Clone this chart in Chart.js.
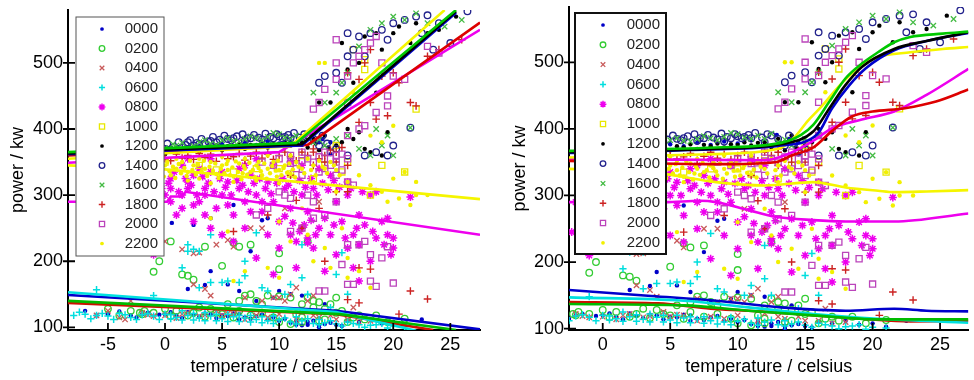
<!DOCTYPE html>
<html><head><meta charset="utf-8">
<script src="https://cdn.jsdelivr.net/npm/chart.js@4.4.0/dist/chart.umd.min.js"></script>
<style>
html,body{margin:0;padding:0;background:#fff;}
#wrap{position:relative;width:974px;height:380px;overflow:hidden;background:#fff;}
canvas{position:absolute;top:0;}
#c1{left:0;} #c2{left:487px;}
</style></head><body>
<div id="wrap"><canvas id="c1" width="487" height="380"></canvas><canvas id="c2" width="487" height="380"></canvas></div>
<script>
// ---------- tick labels ----------
const xTicksLeft = [-5, 0, 5, 10, 15, 20, 25];
const xTicksRight = [0, 5, 10, 15, 20, 25];
const yTicks = [100, 200, 300, 400, 500];
const seriesNames = ['0000','0200','0400','0600','0800','1000','1200','1400','1600','1800','2000','2200'];

// ---------- scatter data (temperature, power) ----------
const s0000 = [[-7,125],[-5,120],[-3,118],[-1.5,122],[0,120],[1,118],[2,123],[3,116],[4,120],[5,118],[6,121],[7,115],[8,117],[9,112],[10,110],[11,107],[11.5,104],[12,103],[12.5,108],[13,110],[14,105],[15,104],[16,110],[18,112],[22.5,112],[20,108],[3.5,164],[4,185],[5.5,165],[6.5,155],[2,158],[4,265],[2.5,255],[0.6,258],[8.5,262],[9,265],[6,285],[7.5,215],[10,155],[11,150],[12,148],[14,135],[9.5,145],[8,140],[12.9,391],[13.5,380],[14.5,362],[-2,120],[6.5,112],[13.5,104],
  [1,372],[3,374],[5,377],[7,379],[9,381],[11,383],[12,376],[13.8,385],[14.5,380],[0,366],[2,369],[4,371],[6,374],[8,376],[10,378],
  [-6,118],[-4,124],[-2.5,115],[-0.5,119],[0.5,123],[1.5,114],[2.5,119],[3.5,121],[4.5,114],[5.5,117],[6.5,120],[7.5,113],[8.5,119],[9.5,115],[10.5,113],[11.5,110],[12.5,104],[13.5,100],[14.5,107],[15.5,102],[17,108],[19,106],[21,103]];
const s0200 = [[-5,128],[-3,125],[-1,122],[1,125],[2,118],[3,130],[4,128],[5.5,135],[6.5,125],[7,148],[7.5,150],[8,140],[9,148],[10,147],[11,145],[12,135],[13,130],[14,128],[15,122],[15.5,125],[17,118],[18.5,118],[21,113],[10,108],[11,105],[12,115],[13.5,110],[16,108],[6.5,140],[-1,184],[1.5,180],[2,178],[2.5,172],[3.5,222],[5,193],[6,228],[6.5,222],[7.5,225],[10,212],[10,188],[0.5,230],[-0.5,200],[8.5,135],[13,140],[15,145],[12.5,230],[-2.2,122],[-1.8,125],[0,128],[4.5,122],
  [-4,118],[-2,120],[0.5,117],[2.5,122],[3.5,116],[5,120],[6,115],[7.5,118],[8.5,122],[9.5,115],[11.5,120],[12.5,145],[13.5,138],[14.5,135],[16.5,115],[17.5,112],[19.5,108],[14,112],[12,108]];
const s0400 = [[-5,125],[-3.5,112],[-2,122],[0,118],[1.5,120],[3,117],[4.5,125],[6,120],[7,145],[8.5,140],[9.5,145],[10.5,140],[11,150],[12,123],[13,118],[15,112],[3.5,158],[4,148],[2.5,165],[0,230],[1.5,218],[2.5,212],[3,213],[4.5,225],[6,222],[7.5,250],[8.5,250],[5.5,232],[10.5,280],[13.5,290],[-3,140],[11.5,160],[-1,117],[5,118],
  [-6,118],[-4,115],[-1.5,119],[1,114],[2,122],[3.5,119],[5.5,121],[7,112],[8,118],[9,115],[10,120],[11.5,112],[13.5,115],[14.5,118],[16,112],[17,108],[18,110],[16.5,130],[12.5,140],[13,148],[10,145]];
const s0600 = [[-8,118],[-7,120],[-6,118],[-5,117],[-4,121],[-3,115],[-2,119],[-1,117],[0,120],[1,115],[2,118],[3,114],[4,117],[5,113],[6,116],[7,114],[8,112],[9,110],[10,111],[11,108],[12,110],[13,106],[14,107],[15,105],[16,108],[17,104],[18,103],[19,106],[20,102],[21,101],[1.5,125],[3.5,122],[5.5,120],[7.5,118],[9.5,117],[11.5,116],[13.5,112],[-6,157],[-1,148],[1.5,190],[2,215],[2.5,218],[3,215],[3,160],[4,168],[5,168],[5.5,170],[6.5,168],[7,178],[7,200],[8.5,160],[9,155],[10.5,150],[11,165],[12,175],[12,225],[12.5,150],[15,180],[15.5,213],[16,150],[14.5,130],[4,240],[8,243],[-0.5,235],[2,225],[0.5,113],[2.5,111],[4.5,110],[6.5,109],[8.5,107],
  [-7.5,123],[-6.5,113],[-5.5,121],[-4.5,112],[-3.5,119],[-2.5,112],[-1.5,121],[-0.5,112],[0.5,119],[1.5,111],[2.5,121],[3.5,110],[4.5,120],[5.5,109],[6.5,118],[7.5,108],[8.5,116],[9.5,106],[10.5,114],[11.5,105],[12.5,113],[13.5,104],[14.5,110],[15.5,102],[16.5,106],[17.5,100],[18.5,104],[19.5,99]];
const s0800 = [[-1,210],[-0.5,330],[0,300],[0.5,325],[1,270],[1.5,300],[2,320],[2.5,330],[2.5,260],[3,290],[3.5,310],[4,250],[4,335],[4.5,280],[5,300],[5,240],[5.5,320],[6,270],[6,230],[6.5,310],[7,290],[7,250],[7.5,330],[8,300],[8,205],[8.5,275],[9,320],[9,240],[9.5,180],[9.5,290],[10,260],[10,220],[10.5,310],[11,240],[11,280],[11.5,190],[11.5,230],[12,250],[12,300],[12.5,235],[12.5,275],[13,310],[13,220],[13.5,250],[14,265],[14,185],[14.5,240],[15,290],[15,210],[15.5,260],[16,220],[16,300],[16.5,240],[16.5,190],[17,270],[17,225],[17.5,255],[18,300],[18,200],[18.5,235],[19,260],[19.5,265],[19.5,240],[20,220],[17,170],[21.5,297],[13.5,340],[1.5,345],[0.5,310],[6.5,340],[9.5,345],[12,345],[14.5,330],[16,320],[18.5,305],[11,350],[4,355],[2,355],[8,355],[-2.3,245],[-2,290],[-1.5,268],[3,340],[5,335],[7,345],[11.8,245],[12.2,255],[12.5,228],[3.5,300],[2,310],
  [-0.8,320],[-0.3,310],[0.3,318],[0.8,335],[1.2,305],[1.8,325],[2.3,315],[2.8,300],[3.3,328],[3.8,318],[4.3,305],[4.8,325],[5.3,312],[5.8,300],[6.3,322],[6.8,315],[7.3,305],[7.8,318],[8.3,325],[8.8,310],[9.3,302],[9.8,318],[10.3,325],[10.8,315],[11.3,305],[11.8,322],[12.3,312],[12.8,325],[13.3,300],[13.8,318],[14.3,308],[14.8,322],[15.3,312],[16.3,310],[17.3,305],[0.5,290],[1.5,280],[2.5,285],[3.5,270],[5.5,285],[7.5,275],[8.5,290],[10.5,268],[11.2,258],[12.8,262],[13.2,240],[14.8,255],[15.8,235],[16.8,250],[18.2,245],[19.2,225],[20,235],[19.8,210]];
const s1000 = [[22,430],[21,335],[16,350],[15,375],[17.5,505],[18,300],[13,325],[10,340],[6,335],[0,350],[3,345],[19,345],[8,340],[12,360],[14,345],[16.5,520],[17.5,490],[4.5,338],[11,332],[15.5,335]];
const s1200 = [[0,362],[1,365],[2,368],[3,366],[4,370],[5,368],[6,372],[7,370],[8,374],[9,372],[10,376],[11,375],[12,380],[12.5,372],[13,385],[13.5,368],[14,390],[15,375],[15.5,380],[16,400],[16.5,385],[17,395],[17.5,370],[18,365],[19,360],[19.5,395],[15.5,530],[16,490],[17,500],[17.5,540],[18.5,545],[19,520],[20,545],[20.5,555],[21.5,530],[22,560],[23,545],[24,550],[25.5,570],[18.5,455],[14.5,440],[13.5,440],[16.5,470],
  [-0.5,366],[0.5,372],[1.5,370],[2.5,373],[3.5,371],[4.5,375],[5.5,374],[6.5,377],[7.5,376],[8.5,378],[9.5,377],[10.5,380],[11.5,379],[13.2,378],[14.3,372]];
const s1400 = [[0,370],[0.5,368],[1.5,372],[2.5,375],[3.5,378],[4.5,380],[5.5,385],[6,386],[7,382],[8.5,384],[9.5,386],[10.5,388],[11,386],[12.5,390],[13.5,470],[14,480],[15,485],[15.5,470],[16,510],[16.5,520],[17,540],[18,545],[19,550],[20,560],[21,565],[22,570],[23,572],[24,560],[26.5,578],[17.5,360],[18.5,365],[19.5,360],[20,375],[21.5,402],[14.5,365],[16,360],[15,370],[22.5,545],[23.5,520],[25,530],[13.5,375],[12,380],[9,381],[3,377],[-0.5,368],[2,380],[4,382],[7.5,386],[10,389],[16,545],[17.5,510],[19.5,535],
  [-0.8,375],[0.2,378],[0.8,373],[1.2,380],[1.8,376],[2.2,383],[2.8,379],[3.2,385],[3.8,381],[4.2,388],[4.8,384],[5.2,390],[5.8,383],[6.3,389],[6.8,392],[7.2,386],[7.8,391],[8.2,387],[8.8,393],[9.2,388],[9.8,392],[10.3,386],[10.8,391],[11.3,394],[11.8,387],[12.2,392],[13,385],[13.8,390],[14.2,378]];
const s1600 = [[-1,372],[1,375],[3,380],[5,383],[7,385],[9,388],[10,392],[11,385],[13,380],[14,375],[15,385],[16,390],[17,370],[18,360],[19,375],[20,360],[21.5,402],[14,440],[15,455],[15.5,470],[16,485],[17,525],[18,550],[19,560],[20,570],[21,565],[22,575],[23,560],[24.5,555],[26,565],[18.5,400],[19.5,390],[13,455],[2,370],[4,378],[6,382],[8,386],[12,385],
  [0,371],[0.7,377],[1.5,379],[2.5,374],[3.5,383],[4.5,376],[5.5,386],[6.5,381],[7.5,389],[8.5,383],[9.5,394],[10.5,387],[11.5,390],[12.5,393],[13.5,384]];
const s1800 = [[0,355],[2,360],[4,362],[6,358],[8,365],[10,360],[11,330],[12,365],[13,370],[14,360],[15,350],[16,345],[17,410],[18,440],[18.5,415],[19.5,420],[19,480],[20,485],[20.5,470],[21.5,440],[22,435],[23,510],[24,520],[26,535],[17,475],[16,485],[17.5,500],[16,305],[15,305],[13.5,280],[12,250],[14,200],[18,188],[17,190],[16,142],[17,137],[21.5,155],[23,143],[20.5,120],[9,270],[6,245],[15,365],[11.5,292],[13,365],[18,520],
  [-0.5,358],[0.5,352],[1,362],[1.5,356],[2.5,354],[3,363],[3.5,357],[4.5,351],[5,360],[5.5,355],[6.5,363],[7,353],[7.5,359],[8.5,356],[9,362],[9.5,354],[10.5,365],[11,358],[11.5,352],[12.5,360],[13.5,355],[14.5,368],[14,350],[15.5,372],[13,345]];
const s2000 = [[8,270],[9,280],[10,305],[10.5,300],[11,295],[12,330],[12.5,300],[13,290],[13.5,335],[14,340],[14.5,345],[15,330],[15.5,338],[16,320],[16.5,315],[15,290],[14,270],[13,265],[11,245],[12,250],[16,225],[17,225],[17.5,230],[18,210],[19,205],[19.5,222],[15.5,195],[16,165],[16.5,165],[14,155],[13.5,155],[18,170],[18.5,162],[20,167],[13,430],[13.5,440],[14,460],[15,475],[15,500],[15,535],[16,480],[16.5,500],[17,510],[17.5,520],[18,530],[18.5,540],[19,500],[19.5,450],[20,480],[21,475],[23,525],[24,515],[16,440],[17,400],[17.5,405],[18.5,425],[19.5,435],[16,390],[15,360],[14,365],[12.5,355],
  [8.5,350],[9.5,345],[10,355],[11,348],[11.5,340],[12,352],[13,350],[13.5,358],[14.5,355],[15,350],[15.5,362],[16,355],[12,365],[11,360]];
const s2200 = [[0,345],[0.5,330],[1,340],[1.5,350],[2,335],[2.5,345],[3,325],[3.5,340],[4,350],[4.5,332],[5,345],[5.5,338],[6,328],[6.5,348],[7,340],[7.5,335],[8,345],[8.5,330],[9,340],[9.5,350],[10,338],[10.5,345],[11,332],[11.5,350],[12,340],[12.5,355],[13,345],[13.5,352],[14,340],[14.5,350],[15,338],[1,355],[3,355],[5,358],[7,355],[9,360],[11,360],[2,322],[4,318],[6,320],[8,322],[10,318],[13,320],[15,305],[16,320],[17,330],[18,315],[19,305],[20,325],[21,335],[22,300],[21.5,285],[23,300],[12.5,240],[13,200],[14,220],[14.5,190],[16,175],[17,185],[18,160],[11,230],[9,190],[10,175],[7,185],[6,170],[5.5,245],[4,265],[13.5,500],[14,500],[16.5,455],[18,390],[19,380],[10,260],[12,280],[20,405],[22,320],[16,205],[15.5,250],[19.5,290],[20.5,295],[-1,340],[-0.5,352],[5.5,352],[6.8,333],[8.2,350],[9.8,328],
  [-1,330],[-0.7,345],[-0.4,338],[-0.1,328],[0.2,350],[0.4,336],[0.7,343],[0.9,326],[1.2,347],[1.4,333],[1.7,341],[1.9,329],[2.2,352],[2.4,338],[2.7,331],[2.9,346],[3.2,336],[3.4,352],[3.7,329],[3.9,343],[4.2,337],[4.4,348],[4.7,326],[4.9,340],[5.2,333],[5.4,347],[5.7,330],[5.9,342],[6.2,351],[6.4,335],[6.7,324],[6.9,344],[7.2,331],[7.4,349],[7.7,338],[7.9,327],[8.2,341],[8.4,336],[8.7,348],[8.9,325],[9.2,333],[9.4,344],[9.7,337],[9.9,352],[10.2,330],[10.4,341],[10.7,334],[10.9,348],[11.2,339],[11.4,327],[11.7,343],[12.2,333],[12.8,338],[13.2,330],[13.8,343],[14.2,333],[14.8,345],[15.3,330]];

// ---------- fitted curves, left panel (piecewise linear) ----------
const fitL0000 = [[-8.5,149],[15,125],[27.6,97]];
const fitL0200 = [[-8.5,140],[15.3,120],[25.5,96]];
const fitL0400 = [[-8.5,137],[15,120],[23.5,96]];
const fitL0600 = [[-8.5,153],[15,123],[22,95]];
const fitL0800 = [[-8.5,290],[0.2,290],[0.5,298],[1.5,298],[1.8,305],[27.6,240]];
const fitL1000 = [[-8.5,355],[11,374],[24.5,580]];
const fitL1200 = [[-8.5,363],[12,377],[25.5,578]];
const fitL1400 = [[-8.5,362],[12,375],[25.5,576]];
const fitL1600 = [[-8.5,365],[11.5,379],[25.5,580]];
const fitL1800 = [[-8.5,360],[12.5,376],[27.6,561]];
const fitL2000 = [[-8.5,349],[10,365],[27.6,550]];
const fitL2200 = [[-8.5,345],[0,339],[27.6,294]];

// ---------- fitted curves, right panel (smoothed) ----------
const fitR0000 = [[-2.5,158],[3.6,149],[8.4,142],[13.2,132],[18,127],[21.6,130],[24,127],[27.1,126]];
const fitR0200 = [[-2.5,137],[6,135],[10.8,127],[15.6,120],[20.4,114],[27.1,114]];
const fitR0400 = [[-2.5,140],[4.1,138],[8,130],[10.8,127],[15.6,120],[19.2,115],[22.8,111],[27.1,112]];
const fitR0600 = [[-2.5,147],[6,142],[10.8,132],[15.6,122],[20.4,115],[27.1,109]];
const fitR0800 = [[-2.5,290],[4.6,290],[7.2,292],[8.4,290],[10.8,278],[12.8,268],[15.6,263],[18,261],[21.6,261],[27.1,273]];
const fitR1000 = [[-2.5,357],[8,362],[13,370],[14.2,387],[15.2,412],[16.1,431],[17.6,466],[19.2,496],[20.4,508],[22.8,515],[25.2,520],[27.1,523]];
const fitR1200 = [[-2.5,365],[8,370],[13.2,377],[15.6,396],[16.8,431],[18,466],[19.2,493],[21.6,520],[24,532],[27.1,545]];
const fitR1400 = [[-2.5,364],[8,369],[13.2,375],[15.9,392],[17,431],[18.3,466],[19.5,491],[21.6,518],[24,532],[27.1,544]];
const fitR1600 = [[-2.5,367],[8.4,372],[13.2,379],[14.7,391],[15.6,406],[16.8,441],[18,476],[19.2,498],[20.4,515],[21.6,530],[22.8,538],[25.2,543],[27.1,546]];
const fitR1800 = [[-2.5,352],[8.4,347],[12.8,350],[14,360],[15.6,372],[17,397],[18.5,419],[20,426],[22.4,431],[24.7,441],[27.1,459]];
const fitR2000 = [[-2.5,355],[12,353],[13.7,362],[15.6,382],[17,401],[19.2,414],[21.6,426],[24,451],[27.1,490]];
const fitR2200 = [[-2.5,340],[4.6,332],[8.4,320],[12,315],[15.6,320],[18,312],[20.4,307],[21.6,305],[24,306],[27.1,308]];

// ---------- styles ----------
const markers = {
  '0000': {style:'circle',   r:2.2, color:'#0000c8', fill:true,  bw:0},
  '0200': {style:'circle',   r:3.3, color:'#33cc33', fill:false, bw:1.3},
  '0400': {style:'crossRot', r:3.8, color:'#c85a5a', fill:false, bw:1.3},
  '0600': {style:'cross',    r:3.6, color:'#00dede', fill:false, bw:1.5},
  '0800': {style:'star',     r:4.0, color:'#ee00ee', fill:false, bw:1.5},
  '1000': {style:'rect',     r:4.3, color:'#e8e800', fill:false, bw:1.3},
  '1200': {style:'circle',   r:2.2, color:'#000000', fill:true,  bw:0},
  '1400': {style:'circle',   r:3.3, color:'#22228c', fill:false, bw:1.3},
  '1600': {style:'crossRot', r:3.8, color:'#44bb44', fill:false, bw:1.3},
  '1800': {style:'cross',    r:3.8, color:'#cc2222', fill:false, bw:1.4},
  '2000': {style:'rect',     r:4.3, color:'#bb44bb', fill:false, bw:1.3},
  '2200': {style:'circle',   r:2.2, color:'#f2f000', fill:true,  bw:0}
};
const lineStyle = {
  '0000': {color:'#0000cc', order:2}, '0200': {color:'#00bb00', order:0}, '0400': {color:'#cc1100', order:3},
  '0600': {color:'#00e0e0', order:1}, '0800': {color:'#ee00ee', order:0}, '1000': {color:'#f5f500', order:3},
  '1200': {color:'#000000', order:1}, '1400': {color:'#0000cc', order:2}, '1600': {color:'#00c800', order:0},
  '1800': {color:'#dd0000', order:4}, '2000': {color:'#ee00ee', order:5}, '2200': {color:'#f5f500', order:0}
};
const scatterSets = {'0000':s0000,'0200':s0200,'0400':s0400,'0600':s0600,'0800':s0800,'1000':s1000,'1200':s1200,'1400':s1400,'1600':s1600,'1800':s1800,'2000':s2000,'2200':s2200};
const fitsLeft = {'0000':fitL0000,'0200':fitL0200,'0400':fitL0400,'0600':fitL0600,'0800':fitL0800,'1000':fitL1000,'1200':fitL1200,'1400':fitL1400,'1600':fitL1600,'1800':fitL1800,'2000':fitL2000,'2200':fitL2200};
const fitsRight = {'0000':fitR0000,'0200':fitR0200,'0400':fitR0400,'0600':fitR0600,'0800':fitR0800,'1000':fitR1000,'1200':fitR1200,'1400':fitR1400,'1600':fitR1600,'1800':fitR1800,'2000':fitR2000,'2200':fitR2200};

const toPts = a => a.map(([x, y]) => ({x, y}));
const FONT = '"Liberation Sans", Arial, Helvetica, sans-serif';

function buildDatasets(fits, smooth) {
  const ds = [];
  seriesNames.forEach((n, i) => {
    const m = markers[n];
    ds.push({
      label: n, data: toPts(scatterSets[n]), showLine: false,
      pointStyle: m.style, pointRadius: m.r, pointHoverRadius: m.r,
      borderColor: m.color, backgroundColor: m.fill ? m.color : 'rgba(0,0,0,0)',
      pointBorderWidth: m.bw, order: 100 - i
    });
  });
  seriesNames.forEach(n => {
    const l = lineStyle[n];
    ds.push({
      label: 'fit ' + n, data: toPts(fits[n]), showLine: true, pointRadius: 0,
      borderColor: l.color, backgroundColor: l.color, borderWidth: 2.6, fill: false,
      tension: smooth ? 0.4 : 0, cubicInterpolationMode: smooth ? 'monotone' : 'default',
      order: l.order
    });
  });
  return ds;
}

const tickMarks = {
  id: 'tickMarks',
  afterDraw(chart) {
    const {ctx, scales: {x, y}, chartArea: a} = chart;
    ctx.save(); ctx.strokeStyle = '#000'; ctx.lineWidth = 1.8; ctx.beginPath();
    x.ticks.forEach(t => { const px = x.getPixelForValue(t.value); ctx.moveTo(px, a.bottom); ctx.lineTo(px, a.bottom - 7); });
    y.ticks.forEach(t => { const py = y.getPixelForValue(t.value); ctx.moveTo(a.left - 5, py); ctx.lineTo(a.left + 7, py); });
    ctx.stroke(); ctx.restore();
  }
};
const insetLegend = {
  id: 'insetLegend',
  afterDraw(chart, args, o) {
    const ctx = chart.ctx;
    ctx.save();
    ctx.fillStyle = '#fff'; ctx.fillRect(o.x0, o.y0, o.x1 - o.x0, o.y1 - o.y0);
    ctx.strokeStyle = o.border; ctx.lineWidth = o.bw; ctx.strokeRect(o.x0, o.y0, o.x1 - o.x0, o.y1 - o.y0);
    ctx.font = '15px ' + FONT; ctx.textAlign = 'right'; ctx.textBaseline = 'middle';
    seriesNames.forEach((n, i) => {
      const y = o.firstY + i * o.step, m = markers[n];
      ctx.fillStyle = m.fill ? m.color : 'rgba(0,0,0,0)'; ctx.strokeStyle = m.color; ctx.lineWidth = m.bw;
      Chart.helpers.drawPoint(ctx, {pointStyle: m.style, radius: m.r * 0.85, rotation: 0, borderWidth: m.bw}, o.mx, y);
      ctx.fillStyle = '#222'; ctx.fillText(n, o.tx, y);
    });
    ctx.restore();
  }
};

function makeChart(id, fits, smooth, cfg) {
  return new Chart(document.getElementById(id), {
    type: 'scatter',
    data: {datasets: buildDatasets(fits, smooth)},
    plugins: [tickMarks, insetLegend],
    options: {
      responsive: false, animation: false, devicePixelRatio: 1,
      layout: {padding: cfg.padding},
      plugins: {legend: {display: false}, tooltip: {enabled: false}, insetLegend: cfg.legend},
      scales: {
        x: {
          type: 'linear', min: cfg.xmin, max: cfg.xmax,
          grid: {display: false, drawTicks: false},
          border: {display: true, color: '#000', width: 2},
          ticks: {color: '#000', font: {family: FONT, size: 18}, padding: 4, includeBounds: false},
          afterBuildTicks: s => { s.ticks = cfg.xticks.map(v => ({value: v})); },
          afterFit: s => { s.height = 50; s.paddingLeft = 0; s.paddingRight = 0; },
          title: {display: true, text: 'temperature / celsius', color: '#000', font: {family: FONT, size: 18}, padding: {top: 0, bottom: 2}}
        },
        y: {
          type: 'linear', min: cfg.ymin, max: cfg.ymax,
          grid: {display: false, drawTicks: false},
          border: {display: true, color: '#000', width: 2},
          ticks: {color: '#000', font: {family: FONT, size: 18}, padding: 5, includeBounds: false},
          afterBuildTicks: s => { s.ticks = yTicks.map(v => ({value: v})); },
          afterFit: s => { s.width = cfg.ywidth; s.paddingTop = 0; s.paddingBottom = 0; },
          title: {display: true, text: 'power / kw', color: '#000', font: {family: FONT, size: 18}, padding: {top: cfg.ytitlePad, bottom: 0}}
        }
      }
    }
  });
}

makeChart('c1', fitsLeft, false, {
  padding: {left: 0, top: 10, right: 7, bottom: 0},
  xmin: -8.5, xmax: 27.6, ymin: 96, ymax: 580, xticks: xTicksLeft, ywidth: 68, ytitlePad: 7,
  legend: {x0: 76, y0: 17, x1: 164, y1: 256, mx: 102, tx: 158, firstY: 29, step: 19.5, border: '#555', bw: 1}
});
makeChart('c2', fitsRight, true, {
  padding: {left: 0, top: 7, right: 0, bottom: 0},
  xmin: -2.5, xmax: 27.1, ymin: 98, ymax: 583, xticks: xTicksRight, ywidth: 82, ytitlePad: 22,
  legend: {x0: 88, y0: 13, x1: 179, y1: 254, mx: 116, tx: 173, firstY: 25, step: 19.8, border: '#111', bw: 2}
});
</script>
</body></html>
